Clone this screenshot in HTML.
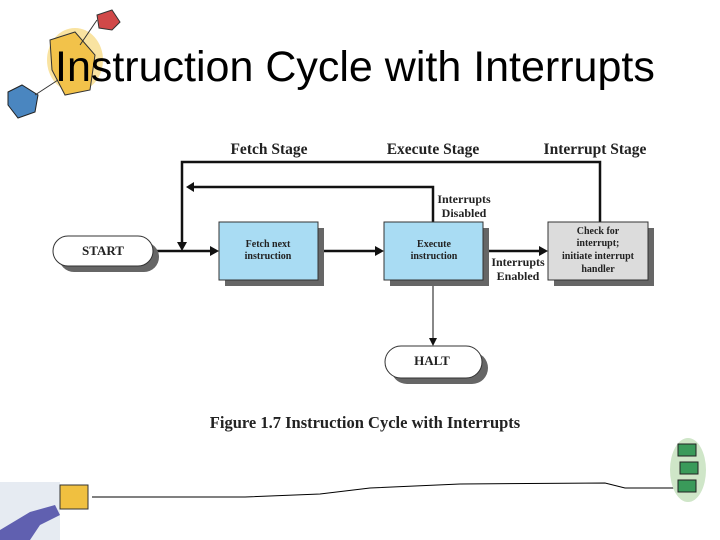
<!DOCTYPE html>
<html><head><style>
body{margin:0;width:720px;height:540px;background:#fff;overflow:hidden;position:relative;font-family:"Liberation Serif",serif}
.t{position:absolute;font-family:"Liberation Sans",sans-serif;font-size:43px;left:55px;top:43px;color:#000;white-space:nowrap}
</style></head><body>
<svg width="720" height="540" style="position:absolute;left:0;top:0">
<ellipse cx="75" cy="60" rx="28" ry="32" fill="#f7dc8a" opacity="0.8"/>
<polygon points="50,40 75,32 95,55 90,90 65,95 52,70" fill="#f2c24a" stroke="#333" stroke-width="1"/>
<polygon points="97,15 112,10 120,22 112,30 99,28" fill="#d04848" stroke="#333"/>
<polygon points="8,92 22,85 38,95 35,112 18,118 8,105" fill="#4a86c0" stroke="#222"/>
<line x1="35" y1="95" x2="58" y2="80" stroke="#333"/>
<line x1="80" y1="45" x2="97" y2="20" stroke="#333"/>
<g stroke="#111" stroke-width="2.5" fill="none">
<polyline points="600,222 600,162 182,162 182,244"/>
<polyline points="433,222 433,187 192,187"/>
<line x1="153" y1="251" x2="212" y2="251"/>
<line x1="318" y1="251" x2="377" y2="251"/>
<line x1="483" y1="251" x2="541" y2="251"/>
</g>
<line x1="433" y1="280" x2="433" y2="340" stroke="#111" stroke-width="1"/>
<g fill="#111">
<polygon points="177,242 187,242 182,251"/>
<polygon points="186,187 194,182 194,192"/>
<polygon points="219,251 210,246 210,256"/>
<polygon points="384,251 375,246 375,256"/>
<polygon points="548,251 539,246 539,256"/>
<polygon points="429,338 437,338 433,346"/>
</g>
<rect x="59" y="242" width="100" height="30" rx="15" fill="#666"/>
<rect x="53" y="236" width="100" height="30" rx="15" fill="#fff" stroke="#333"/>
<rect x="225" y="228" width="99" height="58" fill="#666"/>
<rect x="219" y="222" width="99" height="58" fill="#a9dcf3" stroke="#333"/>
<rect x="390" y="228" width="99" height="58" fill="#666"/>
<rect x="384" y="222" width="99" height="58" fill="#a9dcf3" stroke="#333"/>
<rect x="554" y="228" width="100" height="58" fill="#666"/>
<rect x="548" y="222" width="100" height="58" fill="#dcdcdc" stroke="#333"/>
<rect x="391" y="352" width="97" height="32" rx="16" fill="#666"/>
<rect x="385" y="346" width="97" height="32" rx="16" fill="#fff" stroke="#333"/>
<g font-family="Liberation Serif,serif" font-weight="bold" fill="#222" text-anchor="middle">
<text x="269" y="154" font-size="15.5">Fetch Stage</text>
<text x="433" y="154" font-size="15.5">Execute Stage</text>
<text x="595" y="154" font-size="15.5">Interrupt Stage</text>
<text x="103" y="255" font-size="13">START</text>
<text x="268" y="247" font-size="10">Fetch next</text>
<text x="268" y="259" font-size="10">instruction</text>
<text x="434" y="247" font-size="10">Execute</text>
<text x="434" y="259" font-size="10">instruction</text>
<text x="598" y="234" font-size="10">Check for</text>
<text x="598" y="246" font-size="10">interrupt;</text>
<text x="598" y="259" font-size="10">initiate interrupt</text>
<text x="598" y="272" font-size="10">handler</text>
<text x="464" y="203" font-size="12">Interrupts</text>
<text x="464" y="217" font-size="12">Disabled</text>
<text x="518" y="266" font-size="12">Interrupts</text>
<text x="518" y="280" font-size="12">Enabled</text>
<text x="432" y="365" font-size="13">HALT</text>
<text x="365" y="428" font-size="16.5">Figure 1.7  Instruction Cycle with Interrupts</text>
</g>
<path d="M92,497 L245,497 L320,494 L370,488 L460,484 L605,483 L625,488 L680,488" stroke="#000" fill="none" stroke-width="1"/>
<rect x="0" y="482" width="60" height="58" fill="#e6ebf2"/>
<polygon points="0,530 30,512 55,505 60,515 40,525 30,540 0,540" fill="#6060b0"/>
<rect x="60" y="485" width="28" height="24" fill="#f0c040" stroke="#333"/>
<ellipse cx="688" cy="470" rx="18" ry="32" fill="#cfe6c8"/>
<rect x="678" y="444" width="18" height="12" fill="#3a9a5a" stroke="#222"/>
<rect x="680" y="462" width="18" height="12" fill="#3a9a5a" stroke="#222"/>
<rect x="678" y="480" width="18" height="12" fill="#3a9a5a" stroke="#222"/>
</svg>
<div class="t">Instruction Cycle with Interrupts</div>
</body></html>
